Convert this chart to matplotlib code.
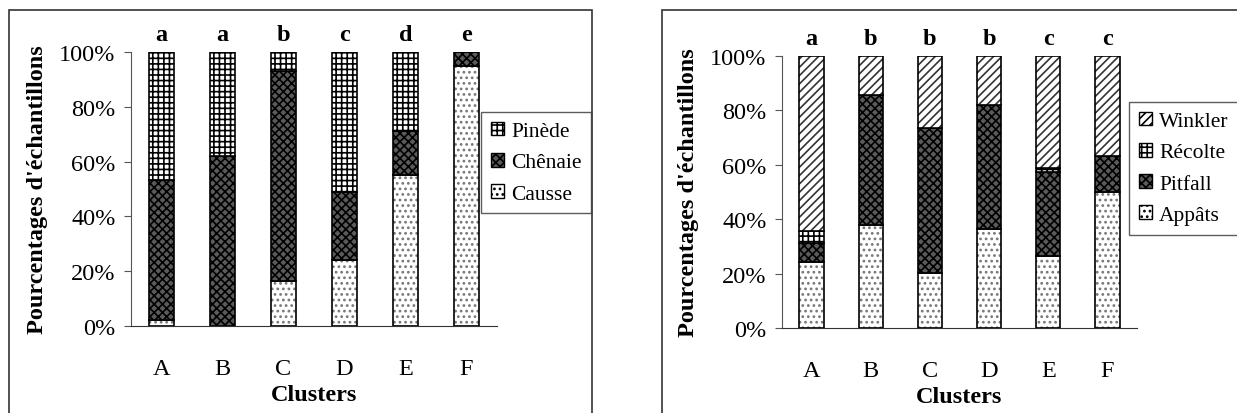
import numpy as np
import matplotlib.pyplot as plt
from matplotlib.patches import Rectangle

plt.rcParams['font.family'] = ['Liberation Serif', 'DejaVu Serif']
plt.rcParams['hatch.linewidth'] = 1.2

clusters = ['A', 'B', 'C', 'D', 'E', 'F']

# panneau gauche : milieux
causse = [2.3, 0.0, 16.4, 24.0, 55.0, 95.0]
chenaie = [51.1, 61.9, 76.7, 24.9, 16.3, 5.0]
pinede = [46.6, 38.1, 6.9, 51.1, 28.7, 0.0]
lettres_g = ['a', 'a', 'b', 'c', 'd', 'e']

# panneau droit : méthodes
appats = [24.1, 37.9, 20.2, 36.4, 26.6, 50.0]
pitfall = [7.1, 47.6, 53.2, 45.6, 30.8, 13.3]
recolte = [4.3, 0.0, 0.0, 0.0, 1.6, 0.0]
winkler = [64.5, 14.5, 26.6, 18.0, 41.0, 36.7]
lettres_d = ['a', 'b', 'b', 'b', 'c', 'c']

styles = {
    'dots': dict(facecolor='white', hatch='...', edgecolor='#777777'),
    'dark': dict(facecolor='#5a5a5a', hatch='xxxx', edgecolor='black'),
    'grid': dict(facecolor='white', hatch='+++', edgecolor='black'),
    'diag': dict(facecolor='white', hatch='////', edgecolor='#333333'),
}

fig = plt.figure(figsize=(12.37, 4.14), dpi=100)

# cadres
fig.patches.append(Rectangle((9 / 1237, -0.1), (592 - 9) / 1237, 1.1 - 11 / 414,
                             transform=fig.transFigure, fill=False, edgecolor='#333333', lw=1.2))
fig.patches.append(Rectangle((662 / 1237, -0.1), (1240 - 662) / 1237, 1.1 - 11 / 414,
                             transform=fig.transFigure, fill=False, edgecolor='#333333', lw=1.2))


def panel(ax, series, styl, lettres):
    x = np.arange(len(clusters))
    bottom = np.zeros(len(clusters))
    handles = []
    for vals, st in zip(series, styl):
        b = ax.bar(x, vals, 0.41, bottom=bottom, linewidth=0, **styles[st])
        ax.bar(x, vals, 0.41, bottom=bottom, fill=False, edgecolor='black', linewidth=1.2)
        handles.append(b)
        bottom += np.array(vals)
    ax.set_xlim(-0.5, len(clusters) - 0.5)
    ax.set_ylim(0, 100)
    ax.set_yticks([0, 20, 40, 60, 80, 100])
    ax.set_yticklabels(['0%', '20%', '40%', '60%', '80%', '100%'], fontsize=17.5)
    ax.set_xticks(x)
    ax.set_xticklabels(clusters, fontsize=17.5)
    ax.tick_params(axis='x', length=0, pad=23)
    ax.tick_params(axis='y', length=5, direction='out', color='#555555', pad=6)
    for s in ['top', 'right']:
        ax.spines[s].set_visible(False)
    ax.spines['left'].set_color('#555555')
    ax.spines['bottom'].set_color('#333333')
    ax.set_xlabel('Clusters', fontsize=17.5, fontweight='bold', labelpad=4)
    ax.set_ylabel("Pourcentages d'échantillons", fontsize=17.5, fontweight='bold', labelpad=8)
    for xi, l in zip(x, lettres):
        ax.annotate(l, (xi, 100), xytext=(0, 5), textcoords='offset points',
                    ha='center', va='bottom', fontsize=17.5, fontweight='bold', annotation_clip=False)
    return handles


def legende(handles, labels, x0, y0):
    leg = fig.legend(handles, labels, loc='upper left', bbox_to_anchor=(x0 / 1237, 1 - y0 / 414),
                     fontsize=15.5, frameon=True, fancybox=False, edgecolor='#333333',
                     borderaxespad=0, handlelength=0.6, handleheight=0.6, handletextpad=0.35,
                     labelspacing=0.55, borderpad=0.45)
    leg.get_frame().set_linewidth(1.0)
    for p in leg.get_patches():
        p.set_edgecolor('black')
        p.set_linewidth(1.0)
    return leg


ax1 = fig.add_axes([131 / 1237, 87 / 414, 366 / 1237, 274 / 414])
h1 = panel(ax1, [causse, chenaie, pinede], ['dots', 'dark', 'grid'], lettres_g)
legende(h1[::-1], ['Pinède', 'Chênaie', 'Causse'], 481, 113)

ax2 = fig.add_axes([782 / 1237, 85 / 414, 355 / 1237, 272 / 414])
h2 = panel(ax2, [appats, pitfall, recolte, winkler], ['dots', 'dark', 'grid', 'diag'], lettres_d)
legende(h2[::-1], ['Winkler', 'Récolte', 'Pitfall', 'Appâts'], 1129, 103)

fig.savefig('out.png', dpi=100)
